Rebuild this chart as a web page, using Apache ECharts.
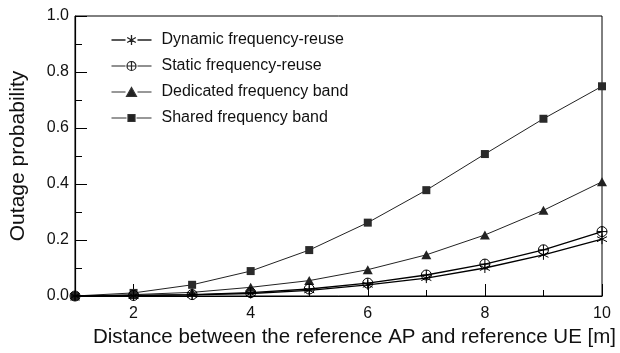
<!DOCTYPE html>
<html>
<head>
<meta charset="utf-8">
<script src="https://cdn.jsdelivr.net/npm/echarts@6/dist/echarts.min.js"></script>
<style>
  html, body { margin: 0; padding: 0; background: #fff; }
  #chart { width: 620px; height: 353px; }
</style>
</head>
<body>
<div id="chart"></div>
<script>
// Distance between reference AP and reference UE (m)
const distances = [1, 2, 3, 4, 5, 6, 7, 8, 9, 10];

// Outage probability per scheme
const dynamicReuse = [0.0, 0.001, 0.004, 0.009, 0.020, 0.040, 0.064, 0.100, 0.147, 0.203];
const staticReuse = [0.0, 0.002, 0.005, 0.012, 0.025, 0.046, 0.075, 0.114, 0.165, 0.230];
const dedicatedBand = [0.0, 0.005, 0.013, 0.031, 0.055, 0.094, 0.147, 0.218, 0.306, 0.408];
const sharedBand = [0.0, 0.011, 0.040, 0.089, 0.164, 0.262, 0.378, 0.507, 0.633, 0.749];

const seriesNames = [
  'Dynamic frequency-reuse',
  'Static frequency-reuse',
  'Dedicated frequency band',
  'Shared frequency band'
];

const xMajorTicks = [2, 4, 6, 8, 10];
const xMinorTicks = [1, 3, 5, 7, 9];

const FONT = "'Liberation Sans', Arial, sans-serif";

// Plot markers
const asteriskPath = 'path://M0,-10L0,10M-8.66,-5L8.66,5M-8.66,5L8.66,-5';
const circlePlusPath = 'path://M-10,0A10,10 0 1,0 10,0A10,10 0 1,0 -10,0ZM-10,0L10,0M0,-10L0,10';

// Legend keys: short dash, marker, short dash (40 units wide)
const keyAsterisk = 'path://M0,5L14,5M26,5L40,5M20,0L20,10M15.7,2.5L24.3,7.5M15.7,7.5L24.3,2.5';
const keyCirclePlus = 'path://M0,5L14,5M26,5L40,5M15.5,5A4.5,4.5 0 1,0 24.5,5A4.5,4.5 0 1,0 15.5,5ZM15.5,5L24.5,5M20,0.5L20,9.5';
const keyTriangle = 'path://M0,5L14,5M26,5L40,5M15,9.5L25,9.5L20,0.5Z';
const keySquare = 'path://M0,5L15,5M25,5L40,5M16.5,1.5L23.5,1.5L23.5,8.5L16.5,8.5Z';

function pairs(values) {
  return distances.map((d, i) => [d, values[i]]);
}

const chart = echarts.init(document.getElementById('chart'), null, { renderer: 'canvas' });

chart.setOption({
  animation: false,
  backgroundColor: '#fff',
  textStyle: { fontFamily: FONT },
  grid: {
    left: 73, right: 18, top: 16, bottom: 56,
    show: true, borderColor: '#000', borderWidth: 1
  },
  legend: {
    orient: 'vertical',
    left: 104,
    top: 27,
    itemWidth: 40,
    itemHeight: 10,
    itemGap: 10,
    textStyle: { fontSize: 16, color: '#111', fontFamily: FONT, padding: [0, 0, 0, 5] },
    data: [
      { name: seriesNames[0], icon: keyAsterisk, itemStyle: { color: 'none', borderColor: '#222', borderWidth: 1.3 } },
      { name: seriesNames[1], icon: keyCirclePlus, itemStyle: { color: 'none', borderColor: '#222', borderWidth: 1.2 } },
      { name: seriesNames[2], icon: keyTriangle, itemStyle: { color: '#222', borderColor: '#333', borderWidth: 1.2 } },
      { name: seriesNames[3], icon: keySquare, itemStyle: { color: '#222', borderColor: '#333', borderWidth: 1.2 } }
    ]
  },
  xAxis: [
    {
      type: 'value',
      min: 1, max: 10,
      name: 'Distance between the reference AP and reference UE [m]',
      nameLocation: 'middle',
      nameGap: 31,
      nameTextStyle: { fontSize: 20.5, color: '#111', fontFamily: FONT, padding: [0, 0, 0, 32] },
      axisLine: { show: true, lineStyle: { color: '#000', width: 1.2 } },
      axisTick: { show: true, inside: true, length: 12, customValues: xMajorTicks, lineStyle: { color: '#000' } },
      axisLabel: { show: true, customValues: xMajorTicks, fontSize: 16, color: '#111', margin: 10, fontFamily: FONT },
      splitLine: { show: false }
    },
    {
      type: 'value',
      min: 1, max: 10,
      position: 'bottom',
      axisLine: { show: false },
      axisTick: { show: true, inside: true, length: 6, customValues: xMinorTicks, lineStyle: { color: '#000' } },
      axisLabel: { show: false },
      splitLine: { show: false }
    }
  ],
  yAxis: {
    type: 'value',
    min: 0, max: 1, interval: 0.2,
    name: 'Outage probability',
    nameLocation: 'middle',
    nameGap: 46,
    nameTextStyle: { fontSize: 21, color: '#111', fontFamily: FONT },
    axisLine: { show: true, lineStyle: { color: '#000', width: 1.2 } },
    axisTick: { show: true, inside: true, length: 12, lineStyle: { color: '#000' } },
    minorTick: { show: true, splitNumber: 2, length: 7, lineStyle: { color: '#000' } },
    axisLabel: {
      fontSize: 16, color: '#111', margin: 6, fontFamily: FONT,
      formatter: v => v.toFixed(1)
    },
    splitLine: { show: false }
  },
  series: [
    {
      name: seriesNames[0],
      type: 'line',
      data: pairs(dynamicReuse),
      symbol: asteriskPath,
      symbolSize: 10,
      lineStyle: { color: '#000', width: 1.3 },
      itemStyle: { color: '#000', borderColor: '#000', borderWidth: 1 },
      z: 5
    },
    {
      name: seriesNames[1],
      type: 'line',
      data: pairs(staticReuse),
      symbol: circlePlusPath,
      symbolSize: 10,
      lineStyle: { color: '#000', width: 1.3 },
      itemStyle: { color: 'rgba(255,255,255,0)', borderColor: '#000', borderWidth: 1 },
      z: 4
    },
    {
      name: seriesNames[2],
      type: 'line',
      data: pairs(dedicatedBand),
      symbol: 'triangle',
      symbolSize: [10, 9],
      lineStyle: { color: '#222', width: 1 },
      itemStyle: { color: '#222', borderWidth: 0 },
      z: 3
    },
    {
      name: seriesNames[3],
      type: 'line',
      data: pairs(sharedBand),
      symbol: 'rect',
      symbolSize: 8,
      lineStyle: { color: '#222', width: 1 },
      itemStyle: { color: '#2a2a2a', borderWidth: 0 },
      z: 2
    }
  ]
});
</script>
</body>
</html>
